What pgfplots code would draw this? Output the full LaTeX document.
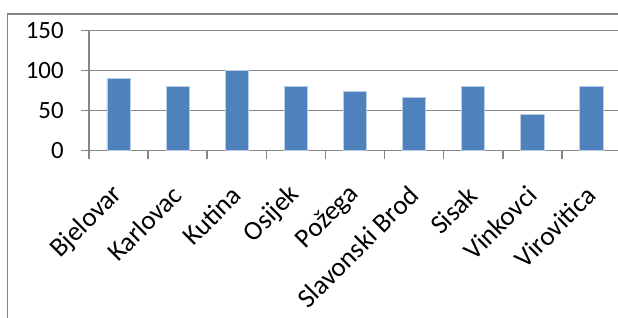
\documentclass[border=0pt]{standalone}
\usepackage{fontspec}
\setmainfont{Carlito}
\usepackage{pgfplots}
\pgfplotsset{compat=1.18}
\definecolor{barblue}{HTML}{4F81BD}
\definecolor{baredge}{HTML}{B9CDE5}
\definecolor{axgray}{HTML}{868686}
\begin{document}
\begin{tikzpicture}
\useasboundingbox (0,0) rectangle (309bp,159bp);
\clip (0,0) rectangle (309bp,159bp);
\draw[axgray, line width=0.65bp] (3.65bp,-10bp) -- (3.65bp,152bp) -- (330bp,152bp);
\begin{axis}[
  at={(44.5bp,83.75bp)}, anchor=south west,
  scale only axis, width=266bp, height=60bp,
  xmin=-0.5, xmax=8.5, ymin=0, ymax=150,
  axis lines*=left,
  axis line style={axgray, line width=0.75bp},
  tick align=outside,
  major tick length=4bp,
  tick style={axgray, line width=0.75bp},
  ytick={0,50,100,150},
  ymajorgrids,
  major grid style={axgray, line width=0.75bp},
  xtick={-0.5,0.5,...,8.5},
  xticklabels={},
  extra x ticks={0,1,2,3,4,5,6,7,8},
  extra x tick labels={Bjelovar,Karlovac,Kutina,Osijek,Požega,Slavonski Brod,Sisak,Vinkovci,Virovitica},
  extra x tick style={major tick length=0pt, grid=none,
     xticklabel style={yshift=-20bp, rotate=45, anchor=east, inner sep=0pt,
       font=\fontsize{13.5bp}{15bp}\selectfont}},
  yticklabel style={anchor=east, inner sep=0pt, xshift=-8.5bp,
       font=\fontsize{12.4bp}{14bp}\selectfont},
  tick label style={text=black},
  /pgf/number format/assume math mode=true,
]
\addplot[ybar, bar width=11.6bp, fill=barblue, draw=baredge, line width=0.4bp]
  coordinates {(0,90) (1,80) (2,100) (3,80) (4,74) (5,66) (6,80) (7,45) (8,80)};
\end{axis}
\end{tikzpicture}
\end{document}
